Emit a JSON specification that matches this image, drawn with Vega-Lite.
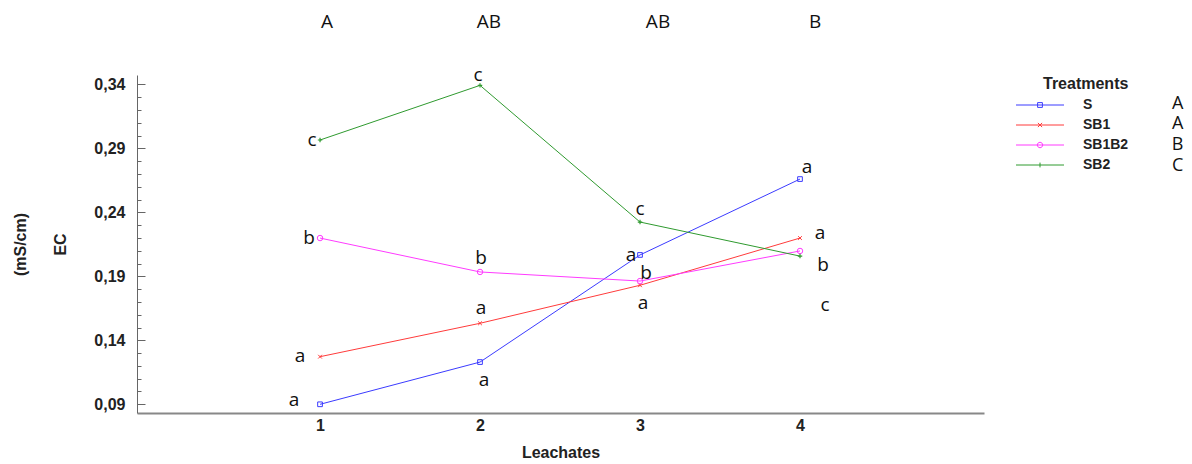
{
  "$schema": "https://vega.github.io/schema/vega-lite/v6.json",
  "autosize": {"type": "none"},
  "width": 847,
  "height": 338,
  "padding": {"left": 137, "top": 75, "right": 208, "bottom": 51},
  "background": "white",
  "config": {"view": {"stroke": null}, "font": "Liberation Sans"},
  "datasets": {
    "ec": [
      {"Treatment": "S", "Leachate": 1, "EC": 0.0900, "letter": "a", "lx": 0.8375, "ly": 0.0934},
      {"Treatment": "S", "Leachate": 2, "EC": 0.1230, "letter": "a", "lx": 2.025, "ly": 0.1090},
      {"Treatment": "S", "Leachate": 3, "EC": 0.2067, "letter": "a", "lx": 2.944, "ly": 0.2067},
      {"Treatment": "S", "Leachate": 4, "EC": 0.2660, "letter": "a", "lx": 4.044, "ly": 0.2754},
      {"Treatment": "SB1", "Leachate": 1, "EC": 0.1272, "letter": "a", "lx": 0.875, "ly": 0.1277},
      {"Treatment": "SB1", "Leachate": 2, "EC": 0.1533, "letter": "a", "lx": 2.006, "ly": 0.1652},
      {"Treatment": "SB1", "Leachate": 3, "EC": 0.1830, "letter": "a", "lx": 3.019, "ly": 0.1691},
      {"Treatment": "SB1", "Leachate": 4, "EC": 0.2199, "letter": "a", "lx": 4.125, "ly": 0.2238},
      {"Treatment": "SB1B2", "Leachate": 1, "EC": 0.2199, "letter": "b", "lx": 0.931, "ly": 0.2199},
      {"Treatment": "SB1B2", "Leachate": 2, "EC": 0.1934, "letter": "b", "lx": 2.006, "ly": 0.2043},
      {"Treatment": "SB1B2", "Leachate": 3, "EC": 0.1863, "letter": "b", "lx": 3.0375, "ly": 0.1926},
      {"Treatment": "SB1B2", "Leachate": 4, "EC": 0.2098, "letter": "b", "lx": 4.144, "ly": 0.1988},
      {"Treatment": "SB2", "Leachate": 1, "EC": 0.2965, "letter": "c", "lx": 0.95, "ly": 0.2965},
      {"Treatment": "SB2", "Leachate": 2, "EC": 0.3392, "letter": "c", "lx": 1.9875, "ly": 0.3473},
      {"Treatment": "SB2", "Leachate": 3, "EC": 0.2324, "letter": "c", "lx": 3.0, "ly": 0.2426},
      {"Treatment": "SB2", "Leachate": 4, "EC": 0.2058, "letter": "c", "lx": 4.156, "ly": 0.1676}
    ],
    "top": [
      {"lx": 1.044, "ly": 0.3887, "letter": "A"},
      {"lx": 2.056, "ly": 0.3887, "letter": "AB"},
      {"lx": 3.1125, "ly": 0.3887, "letter": "AB"},
      {"lx": 4.094, "ly": 0.3887, "letter": "B"}
    ],
    "legendLetters": [
      {"lx": 6.36, "ly": 0.3246, "letter": "A"},
      {"lx": 6.36, "ly": 0.3090, "letter": "A"},
      {"lx": 6.36, "ly": 0.2926, "letter": "B"},
      {"lx": 6.36, "ly": 0.2762, "letter": "C"}
    ]
  },
  "encoding": {
    "x": {
      "field": "Leachate", "type": "quantitative",
      "scale": {"domain": [-0.144, 5.15], "nice": false, "zero": false},
      "axis": {
        "title": "Leachates", "values": [1, 2, 3, 4], "format": "d", "grid": false,
        "ticks": false, "domainColor": "#888888", "domainWidth": 2,
        "labelFont": "Liberation Sans", "labelFontWeight": "bold", "labelFontSize": 16, "labelColor": "#222222", "labelPadding": 4,
        "titleFont": "Liberation Sans", "titleFontWeight": "bold", "titleFontSize": 16, "titleColor": "#222222", "titlePadding": 11
      }
    },
    "y": {
      "field": "EC", "type": "quantitative",
      "scale": {"domain": [0.0832, 0.3473], "nice": false, "zero": false},
      "axis": {
        "title": ["(mS/cm)", "EC"], "grid": false,
        "values": [0.09, 0.10, 0.11, 0.12, 0.13, 0.14, 0.15, 0.16, 0.17, 0.18, 0.19, 0.20, 0.21, 0.22, 0.23, 0.24, 0.25, 0.26, 0.27, 0.28, 0.29, 0.30, 0.31, 0.32, 0.33, 0.34],
        "labelExpr": "round(datum.value*100)%5==4 ? replace(format(datum.value,'.2f'),'.',',') : ''",
        "tickSize": {"condition": {"test": "round(datum.value*100)%5==4", "value": -8}, "value": -4},
        "tickColor": "#666666", "domainColor": "#666666",
        "labelFont": "Liberation Sans", "labelFontWeight": "bold", "labelFontSize": 16, "labelColor": "#222222", "labelPadding": 20,
        "titleFont": "Liberation Sans", "titleFontWeight": "bold", "titleFontSize": 16, "titleColor": "#222222", "titleLineHeight": 40, "titlePadding": 25
      }
    }
  },
  "layer": [
    {
      "data": {"name": "ec"},
      "mark": {"type": "line", "strokeWidth": 1},
      "encoding": {
        "color": {"field": "Treatment", "type": "nominal",
          "scale": {"domain": ["S", "SB1", "SB1B2", "SB2"], "range": ["#3b3bff", "#ff3b3b", "#ff3bff", "#2f9a2f"]}}
      }
    },
    {
      "data": {"name": "ec"},
      "transform": [{"filter": "false"}],
      "mark": {"type": "point", "filled": false, "size": 144, "strokeWidth": 1, "opacity": 1},
      "encoding": {
        "color": {"field": "Treatment", "type": "nominal", "title": "Treatments",
          "legend": {"orient": "none", "legendX": 906, "legendY": 1,
            "titleFont": "Liberation Sans", "titleFontWeight": "bold", "titleFontSize": 16, "titleColor": "#222222", "titlePadding": 6,
            "labelFont": "Liberation Sans", "labelFontWeight": "bold", "labelFontSize": 14, "labelColor": "#222222",
            "symbolOffset": -10, "labelOffset": 36, "rowPadding": 6, "symbolStrokeWidth": 1, "symbolSize": 144}},
        "shape": {"field": "Treatment", "type": "nominal", "title": "Treatments",
          "scale": {"domain": ["S", "SB1", "SB1B2", "SB2"], "range": [
            "M-4,0H4M-0.4,-0.4H0.4V0.4H-0.4Z",
            "M-4,0H4M-0.35,-0.35L0.35,0.35M-0.35,0.35L0.35,-0.35",
            "M-4,0H4M-0.45,0A0.45,0.45 0 1,0 0.45,0A0.45,0.45 0 1,0 -0.45,0",
            "M-4,0H4M0,-0.4V0.4"]},
          "legend": {"orient": "none", "legendX": 906, "legendY": 1}}
      }
    },
    {
      "data": {"name": "ec"},
      "transform": [{"filter": "datum.Treatment == 'S'"}],
      "mark": {"type": "point", "shape": "square", "filled": false, "size": 22, "strokeWidth": 1, "opacity": 1},
      "encoding": {"color": {"field": "Treatment", "type": "nominal"}}
    },
    {
      "data": {"name": "ec"},
      "transform": [{"filter": "datum.Treatment == 'SB1'"}],
      "mark": {"type": "point", "shape": "M-1,-1L1,1M-1,1L1,-1", "filled": false, "size": 14, "strokeWidth": 1, "opacity": 1},
      "encoding": {"color": {"field": "Treatment", "type": "nominal"}}
    },
    {
      "data": {"name": "ec"},
      "transform": [{"filter": "datum.Treatment == 'SB1B2'"}],
      "mark": {"type": "point", "shape": "circle", "filled": false, "size": 30, "strokeWidth": 1, "opacity": 1},
      "encoding": {"color": {"field": "Treatment", "type": "nominal"}}
    },
    {
      "data": {"name": "ec"},
      "transform": [{"filter": "datum.Treatment == 'SB2'"}],
      "mark": {"type": "point", "shape": "M0,-1V1M-1,0H1", "filled": false, "size": 20, "strokeWidth": 1.2, "opacity": 1},
      "encoding": {"color": {"field": "Treatment", "type": "nominal"}}
    },
    {
      "data": {"name": "ec"},
      "mark": {"type": "text", "font": "Open Sans", "fontSize": 19, "color": "#111111", "align": "center", "baseline": "middle"},
      "encoding": {
        "x": {"field": "lx", "type": "quantitative"},
        "y": {"field": "ly", "type": "quantitative"},
        "text": {"field": "letter"}
      }
    },
    {
      "data": {"name": "top"},
      "mark": {"type": "text", "font": "Open Sans", "fontSize": 19, "color": "#111111", "align": "center", "baseline": "middle"},
      "encoding": {
        "x": {"field": "lx", "type": "quantitative"},
        "y": {"field": "ly", "type": "quantitative"},
        "text": {"field": "letter"}
      }
    },
    {
      "data": {"name": "legendLetters"},
      "mark": {"type": "text", "font": "Open Sans", "fontSize": 18, "color": "#111111", "align": "center", "baseline": "middle"},
      "encoding": {
        "x": {"field": "lx", "type": "quantitative"},
        "y": {"field": "ly", "type": "quantitative"},
        "text": {"field": "letter"}
      }
    }
  ]
}
